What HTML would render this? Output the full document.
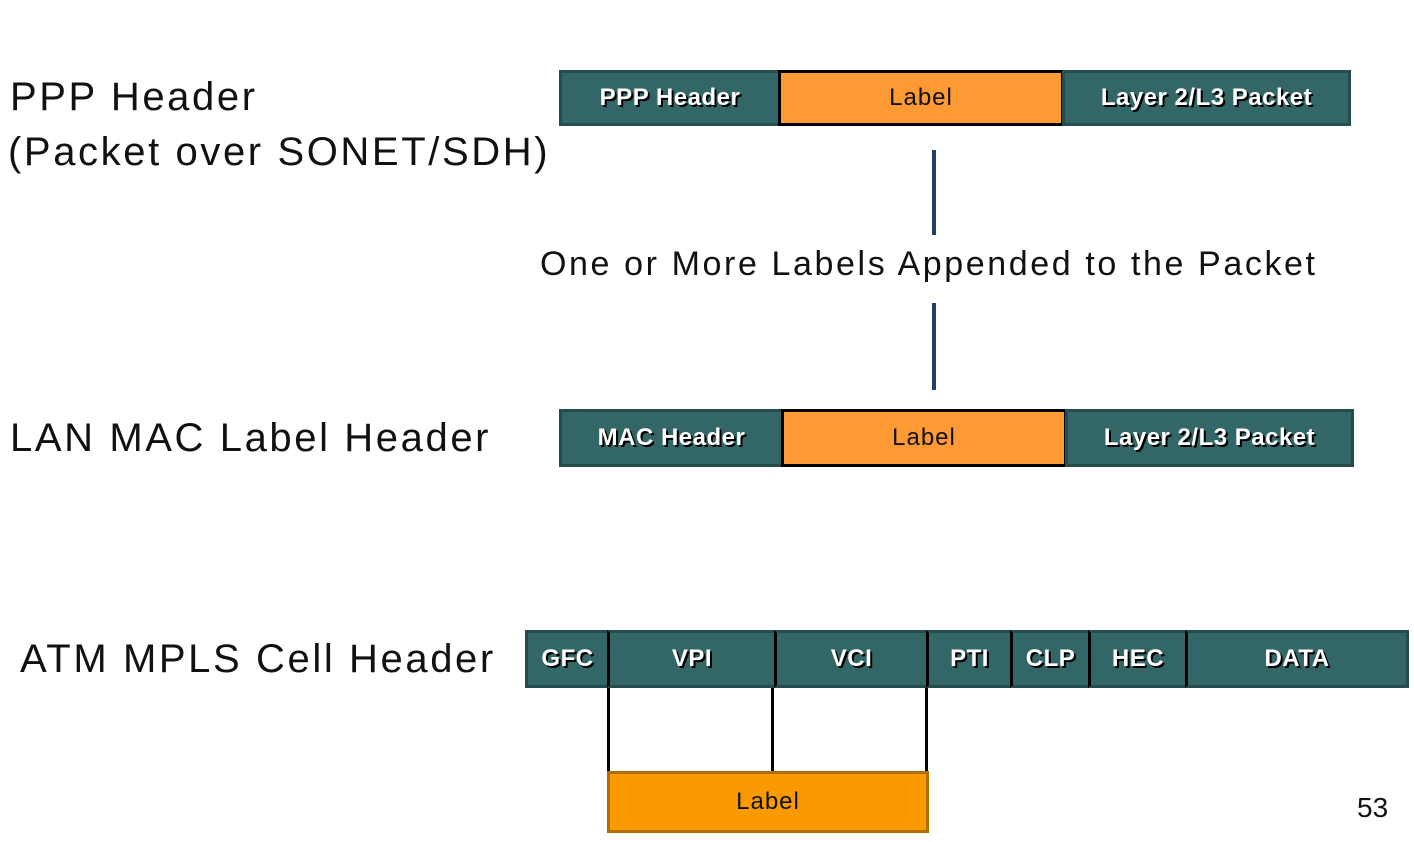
<!DOCTYPE html>
<html><head><style>
body{margin:0;width:1414px;height:842px;background:#fff;position:relative;overflow:hidden;font-family:"Liberation Sans",sans-serif}
.a{position:absolute;box-sizing:border-box}
.t{background:#336666;border:3px solid #264d4d;color:#fff;font-weight:bold;font-size:24px;display:flex;align-items:center;justify-content:center;text-shadow:2px 2px 0 #000;letter-spacing:0.5px}
.o{background:#fd9a33;border:3px solid #000;color:#111;font-size:24px;display:flex;align-items:center;justify-content:center;letter-spacing:1px}
.l{position:absolute;color:#111;font-size:40px;white-space:nowrap;letter-spacing:2.6px}
</style></head><body>
<div class="l" style="left:10px;top:75px">PPP Header</div>
<div class="l" style="left:8px;top:130px">(Packet over SONET/SDH)</div>
<div class="l" style="left:10px;top:416px">LAN MAC Label Header</div>
<div class="l" style="left:20px;top:637px">ATM MPLS Cell Header</div>

<div class="a t" style="left:559px;top:70px;width:222px;height:56px">PPP Header</div>
<div class="a o" style="left:778px;top:70px;width:286px;height:56px">Label</div>
<div class="a t" style="left:1062px;top:70px;width:289px;height:56px">Layer 2/L3 Packet</div>

<div class="a" style="left:932px;top:150px;width:4px;height:85px;background:#1f3f6f"></div>
<div class="a" style="left:932px;top:303px;width:4px;height:87px;background:#1f3f6f"></div>
<div class="l" style="left:540px;top:245px;font-size:34px;letter-spacing:2.6px">One or More Labels Appended to the Packet</div>

<div class="a t" style="left:559px;top:409px;width:225px;height:58px">MAC Header</div>
<div class="a o" style="left:781px;top:409px;width:286px;height:58px">Label</div>
<div class="a t" style="left:1065px;top:409px;width:289px;height:58px">Layer 2/L3 Packet</div>

<div class="a t" style="left:525px;top:630px;width:884px;height:58px;justify-content:flex-start"></div>
<div class="a t" style="left:525px;top:630px;width:85px;height:58px;border-right:3px solid #000">GFC</div>
<div class="a t" style="left:607px;top:630px;width:170px;height:58px;border-left:3px solid #000;border-right:3px solid #000">VPI</div>
<div class="a t" style="left:774px;top:630px;width:155px;height:58px;border-left:3px solid #000;border-right:3px solid #000">VCI</div>
<div class="a t" style="left:926px;top:630px;width:87px;height:58px;border-left:3px solid #000;border-right:3px solid #000">PTI</div>
<div class="a t" style="left:1010px;top:630px;width:81px;height:58px;border-left:3px solid #000;border-right:3px solid #000">CLP</div>
<div class="a t" style="left:1088px;top:630px;width:100px;height:58px;border-left:3px solid #000;border-right:3px solid #000">HEC</div>
<div class="a t" style="left:1185px;top:630px;width:224px;height:58px;border-left:3px solid #000">DATA</div>

<div class="a" style="left:607px;top:688px;width:3px;height:85px;background:#000"></div>
<div class="a" style="left:771px;top:688px;width:3px;height:85px;background:#000"></div>
<div class="a" style="left:925px;top:688px;width:3px;height:85px;background:#000"></div>
<div class="a o" style="left:607px;top:771px;width:322px;height:62px;background:#f99a00;border-color:#b06e00">Label</div>

<div class="l" style="left:1357px;top:792px;font-size:28px;letter-spacing:0">53</div>
</body></html>
